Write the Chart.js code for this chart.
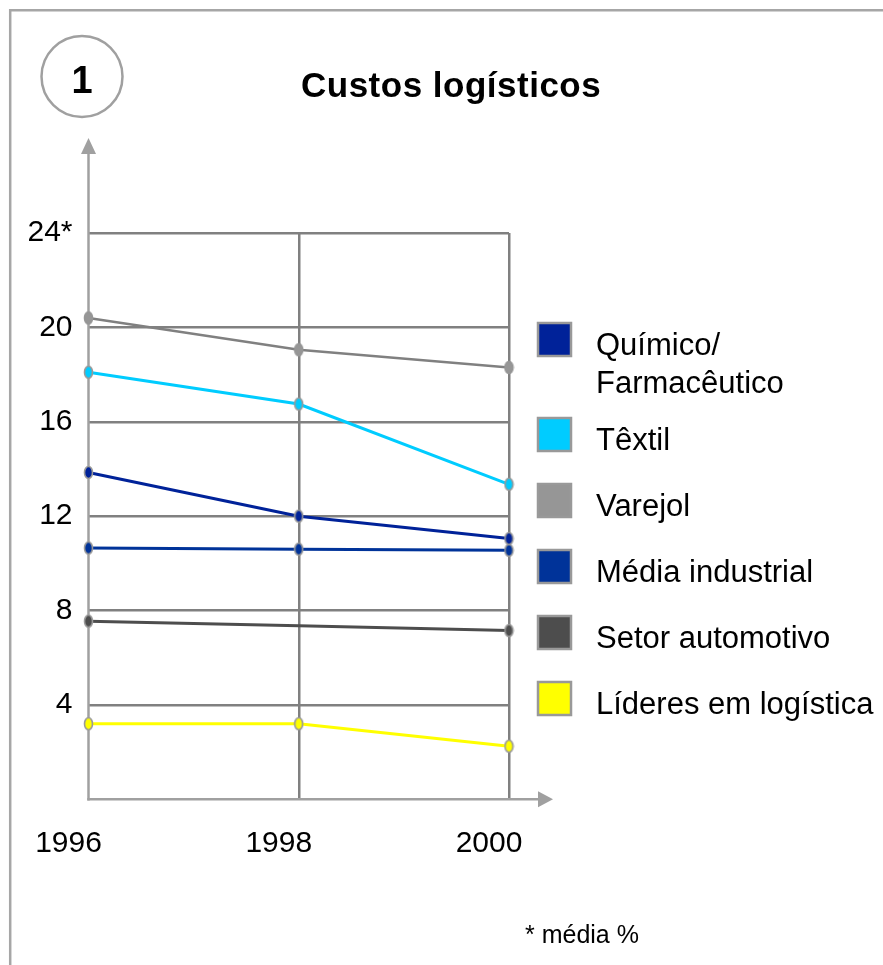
<!DOCTYPE html>
<html><head><meta charset="utf-8">
<script src="https://cdn.jsdelivr.net/npm/chart.js@4.4.1/dist/chart.umd.min.js"></script>
<style>html,body{margin:0;padding:0;background:#fff;} canvas{display:block;}</style>
</head><body>
<canvas id="c" width="883" height="965"></canvas>
<script>
// ---- data ----
const years = ['1996', '1998', '2000'];
const quimico = [13.85, 12.0, 11.05];
const textil = [18.1, 16.75, 13.35];
const varejol = [20.4, 19.05, 18.3];
const mediaIndustrial = [10.65, 10.6, 10.55];
const automotivo = [7.55, 7.35, 7.15];
const lideres = [3.2, 3.2, 2.25];
const yTickValues = [4, 8, 12, 16, 20, 24];
const legendLabels = [['Químico/', 'Farmacêutico'], ['Têxtil'], ['Varejol'], ['Média industrial'], ['Setor automotivo'], ['Líderes em logística']];
const titleText = 'Custos logísticos';
const badgeText = '1';
const footnoteText = '* média %';

const FONT = "'Liberation Sans', Arial, sans-serif";

function makeMarker(fill, stroke) {
  const c = document.createElement('canvas');
  c.width = 11; c.height = 15;
  const g = c.getContext('2d');
  g.beginPath();
  g.ellipse(5.5, 7.5, 4.0, 6.0, 0, 0, Math.PI * 2);
  g.fillStyle = fill; g.fill();
  g.lineWidth = 1.6; g.strokeStyle = stroke; g.stroke();
  return c;
}

const seriesStyle = [
  { data: quimico, line: '#002299', fill: '#002299', stroke: '#999999', box: '#002299', w: 3 },
  { data: textil, line: '#00ccff', fill: '#00ccff', stroke: '#999999', box: '#00ccff', w: 3 },
  { data: varejol, line: '#808080', fill: '#969696', stroke: '#969696', box: '#969696', w: 2.5 },
  { data: mediaIndustrial, line: '#003399', fill: '#003399', stroke: '#999999', box: '#003399', w: 3 },
  { data: automotivo, line: '#4d4d4d', fill: '#4d4d4d', stroke: '#999999', box: '#4d4d4d', w: 3, hideMid: true },
  { data: lideres, line: '#ffff00', fill: '#ffff00', stroke: '#999999', box: '#ffff00', w: 3 }
];

const datasets = seriesStyle.map((s, i) => ({
  label: legendLabels[i].join(' '),
  data: s.data,
  borderColor: s.line,
  backgroundColor: s.fill,
  borderWidth: s.w,
  pointStyle: makeMarker(s.fill, s.stroke),
  pointRadius: s.hideMid ? [5, 0, 5] : 5,
  tension: 0,
  clip: false
}));

const decor = {
  id: 'decor',
  beforeDatasetsDraw(chart) {
    const { ctx, chartArea: a } = chart;
    ctx.save();
    ctx.strokeStyle = '#a0a0a0';
    ctx.fillStyle = '#a0a0a0';
    ctx.lineWidth = 2.5;
    // y axis with arrow
    ctx.beginPath();
    ctx.moveTo(a.left, a.bottom + 1.2);
    ctx.lineTo(a.left, 152);
    ctx.stroke();
    ctx.beginPath();
    ctx.moveTo(a.left, 138); ctx.lineTo(a.left - 7.5, 154); ctx.lineTo(a.left + 7.5, 154); ctx.closePath();
    ctx.fill();
    // x axis with arrow
    ctx.beginPath();
    ctx.moveTo(a.left - 1.2, a.bottom);
    ctx.lineTo(540, a.bottom);
    ctx.stroke();
    ctx.beginPath();
    ctx.moveTo(553, a.bottom); ctx.lineTo(538, a.bottom - 8); ctx.lineTo(538, a.bottom + 8); ctx.closePath();
    ctx.fill();
    ctx.restore();
  },
  afterDraw(chart) {
    const ctx = chart.ctx;
    ctx.save();
    // frame
    ctx.strokeStyle = '#a6a6a6';
    ctx.lineWidth = 2.5;
    ctx.beginPath();
    ctx.moveTo(883, 10.2); ctx.lineTo(10.2, 10.2); ctx.lineTo(10.2, 965);
    ctx.stroke();
    // badge circle
    ctx.strokeStyle = '#a0a0a0';
    ctx.lineWidth = 2.5;
    ctx.beginPath();
    ctx.arc(82, 76.5, 40.5, 0, Math.PI * 2);
    ctx.stroke();
    ctx.fillStyle = '#000';
    ctx.textAlign = 'center';
    ctx.textBaseline = 'alphabetic';
    ctx.font = 'bold 38px ' + FONT;
    ctx.fillText(badgeText, 82, 93);
    // title
    ctx.textAlign = 'left';
    ctx.font = 'bold 35px ' + FONT;
    ctx.letterSpacing = '0.5px';
    ctx.fillText(titleText, 301, 97);
    ctx.letterSpacing = '0px';
    // legend
    let top = 323;
    seriesStyle.forEach((s, i) => {
      ctx.fillStyle = s.box;
      ctx.fillRect(538, top, 33, 33);
      ctx.strokeStyle = '#999999';
      ctx.lineWidth = 2.5;
      ctx.strokeRect(538, top, 33, 33);
      ctx.fillStyle = '#000';
      ctx.font = '31px ' + FONT;
      legendLabels[i].forEach((t, k) => ctx.fillText(t, 596, top + 32 + k * 38));
      top += 66 + (legendLabels[i].length - 1) * 29;
    });
    // footnote
    ctx.font = '25px ' + FONT;
    ctx.fillStyle = '#000';
    ctx.fillText(footnoteText, 525, 943);
    ctx.restore();
  }
};

new Chart(document.getElementById('c'), {
  type: 'line',
  data: { labels: years, datasets },
  options: {
    responsive: false,
    animation: false,
    devicePixelRatio: 1,
    layout: { padding: { top: 233, right: 374, left: 0, bottom: 0 } },
    plugins: { legend: { display: false }, tooltip: { enabled: false }, title: { display: false } },
    scales: {
      x: {
        type: 'category',
        offset: false,
        border: { display: false },
        grid: {
          color: c => c.index === 0 ? 'rgba(0,0,0,0)' : '#808080',
          lineWidth: 2.5,
          drawTicks: false
        },
        ticks: {
          color: '#000',
          font: { family: FONT, size: 30 },
          padding: 26,
          labelOffset: -20,
          maxRotation: 0,
          autoSkip: false
        },
        afterFit: s => { s.height = 965 - 799.3; }
      },
      y: {
        min: 0,
        max: 24,
        border: { display: false },
        grid: {
          color: c => (c.tick && c.tick.value === 0) ? 'rgba(0,0,0,0)' : '#808080',
          lineWidth: 2.5,
          drawTicks: false
        },
        afterBuildTicks: s => { s.ticks = [0].concat(yTickValues).map(v => ({ value: v })); },
        ticks: {
          color: '#000',
          font: { family: FONT, size: 30 },
          padding: 16,
          callback: v => v === 0 ? '' : (v === 24 ? v + '*' : String(v))
        },
        afterFit: s => { s.width = 88.5; }
      }
    }
  },
  plugins: [decor]
});
</script>
</body></html>
